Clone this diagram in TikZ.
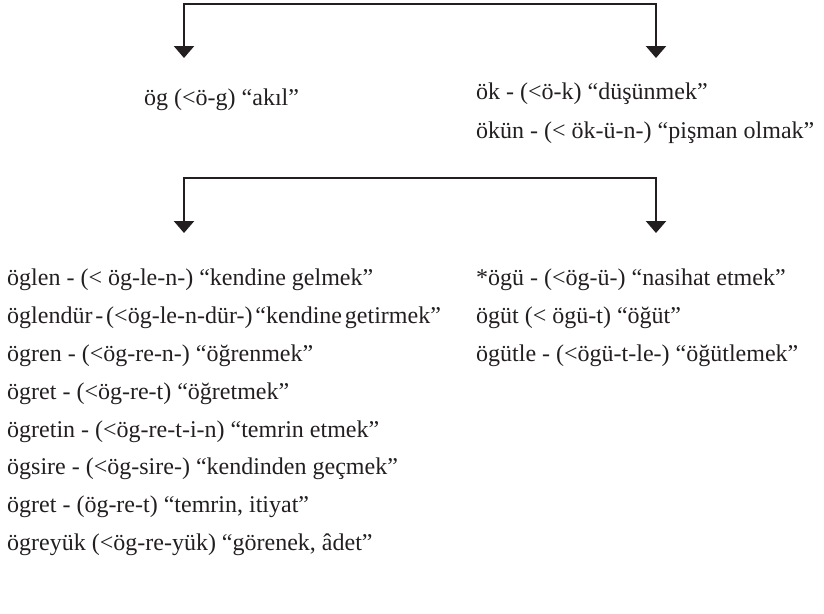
\documentclass[tikz,border=0pt]{standalone}
\usepackage{fontspec}
\setmainfont{Liberation Serif}
\usetikzlibrary{arrows.meta}
\definecolor{ink}{HTML}{231F20}
\newcommand{\tightsp}{\spaceskip=0.12em\relax}
\begin{document}
\begin{tikzpicture}[x=1pt,y=-1pt,
  lbl/.style={anchor=base west, inner sep=0pt, text=ink, font=\fontsize{24}{28}\selectfont},
  conn/.style={draw=ink, line width=2.4pt, -{Triangle[width=20pt,length=12pt]}}]
\useasboundingbox (0,0) rectangle (824,613);
% top level
\node[lbl] (og) at (144,105) {ög (<ö-g) “akıl”};
\node[lbl] (ok) at (476,99) {ök - (<ö-k) “düşünmek”};
\node[lbl] (okun) at (476,138) {ökün - (< ök-ü-n-) “pişman olmak”};
% left column
\node[lbl] (l1) at (7,285) {öglen - (< ög-le-n-) “kendine gelmek”};
\node[lbl] (l2) at (7,323) {\tightsp öglendür - (<ög-le-n-dür-) “kendine getirmek”};
\node[lbl] (l3) at (7,361) {ögren - (<ög-re-n-) “öğrenmek”};
\node[lbl] (l4) at (7,399) {ögret - (<ög-re-t) “öğretmek”};
\node[lbl] (l5) at (7,437) {ögretin - (<ög-re-t-i-n) “temrin etmek”};
\node[lbl] (l6) at (7,474) {ögsire - (<ög-sire-) “kendinden geçmek”};
\node[lbl] (l7) at (7,512) {ögret - (ög-re-t) “temrin, itiyat”};
\node[lbl] (l8) at (7,550) {ögreyük (<ög-re-yük) “görenek, âdet”};
% right column
\node[lbl] (r1) at (476,285) {*ögü - (<ög-ü-) “nasihat etmek”};
\node[lbl] (r2) at (476,323) {ögüt (< ögü-t) “öğüt”};
\node[lbl] (r3) at (476,361) {ögütle - (<ögü-t-le-) “öğütlemek”};
% connector points
\coordinate (t1) at (420,4);
\coordinate (t1l) at (184,58);
\coordinate (t1r) at (656,58);
\coordinate (t2) at (420,178);
\coordinate (t2l) at (184,233);
\coordinate (t2r) at (656,233);
\draw[conn] (t1) -| (t1l);
\draw[conn] (t1) -| (t1r);
\draw[conn] (t2) -| (t2l);
\draw[conn] (t2) -| (t2r);
\end{tikzpicture}
\end{document}
